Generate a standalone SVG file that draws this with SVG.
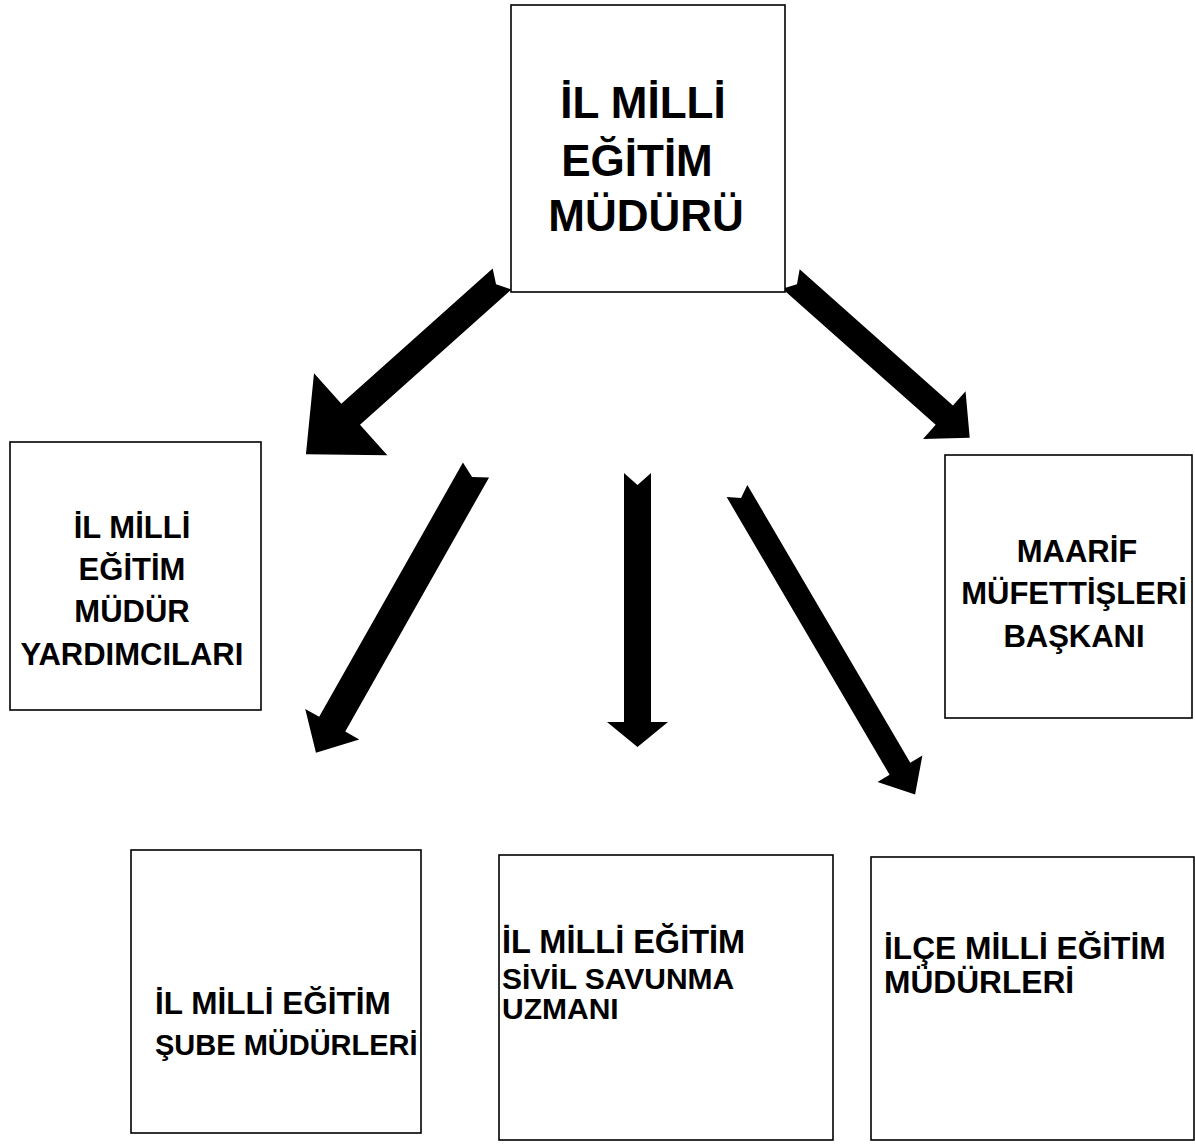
<svg xmlns="http://www.w3.org/2000/svg" width="1195" height="1144" viewBox="0 0 1195 1144">
<style>
.box{fill:#fff;stroke:#000;stroke-width:1.6}
.t{font-family:"Liberation Sans",Arial,sans-serif;font-weight:bold;fill:#000}
.c{text-anchor:middle}
.arr{fill:#000}
</style>
<rect width="1195" height="1144" fill="#fff"/>
<g id="connectors">
<polygon class="arr" transform="translate(502,279) rotate(138.2)" points="0,-14 203,-14 203,-55 263,0 203,55 203,14 0,14 8,0"/>
<polygon class="arr" transform="translate(791,279) rotate(41.6)" points="0,-13 205,-13 205,-32 239,0 205,32 205,13 0,13 8,0"/>
<polygon class="arr" transform="translate(476,470) rotate(119.5)" points="0,-15 292,-15 292,-31 325,0 292,31 292,15 0,15 8,0"/>
<polygon class="arr" points="624,473 637.5,485 651,473 651,722 668,722 637.5,747 607,722 624,722"/>
<polygon class="arr" transform="translate(737,491) rotate(59.6)" points="0,-12 322,-12 322,-26 352,0 322,26 322,12 0,12 8,0"/>
</g>
<g id="node-mudur">
<rect class="box" x="511" y="5" width="274" height="287"/>
<text class="t c" font-size="44" x="643" y="118">İL MİLLİ</text>
<text class="t c" font-size="44" x="637" y="176">EĞİTİM</text>
<text class="t c" font-size="44" x="646" y="231">MÜDÜRÜ</text>
</g>
<g id="node-yardimcilari">
<rect class="box" x="10" y="442" width="251" height="268"/>
<text class="t c" font-size="31" x="132" y="538">İL MİLLİ</text>
<text class="t c" font-size="31" x="132" y="580">EĞİTİM</text>
<text class="t c" font-size="31" x="132" y="622">MÜDÜR</text>
<text class="t c" font-size="31" x="132" y="665">YARDIMCILARI</text>
</g>
<g id="node-maarif">
<rect class="box" x="945" y="455" width="247" height="263"/>
<text class="t c" font-size="31" x="1077" y="562">MAARİF</text>
<text class="t c" font-size="31" x="1074" y="604">MÜFETTİŞLERİ</text>
<text class="t c" font-size="31" x="1074" y="647">BAŞKANI</text>
</g>
<g id="node-sube">
<rect class="box" x="131" y="850" width="290" height="283"/>
<text class="t" font-size="31.5" x="155" y="1014">İL MİLLİ EĞİTİM</text>
<text class="t" font-size="29" x="155" y="1055">ŞUBE MÜDÜRLERİ</text>
</g>
<g id="node-sivil">
<rect class="box" x="499" y="855" width="334" height="285"/>
<text class="t" font-size="32.5" x="502" y="953">İL MİLLİ EĞİTİM</text>
<text class="t" font-size="30" x="502" y="989">SİVİL SAVUNMA</text>
<text class="t" font-size="30" x="502" y="1019">UZMANI</text>
</g>
<g id="node-ilce">
<rect class="box" x="871" y="857" width="323" height="283"/>
<text class="t" font-size="31.7" x="884" y="959">İLÇE MİLLİ EĞİTİM</text>
<text class="t" font-size="31.7" x="884" y="993">MÜDÜRLERİ</text>
</g>
</svg>
